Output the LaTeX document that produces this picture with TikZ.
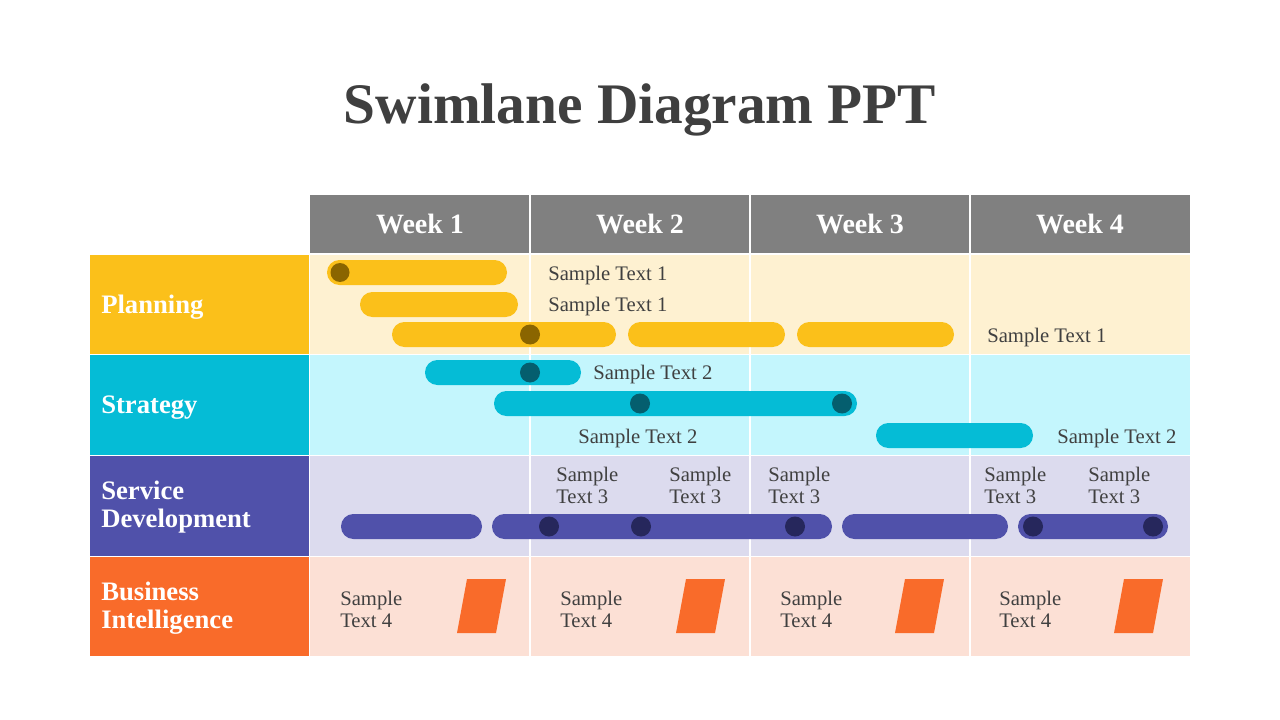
\documentclass[tikz,border=0pt]{standalone}
\usepackage{fontspec}
\setmainfont{Liberation Serif}
\definecolor{titlegray}{HTML}{3F3F3F}
\definecolor{txtgray}{HTML}{404040}
\definecolor{hdrgray}{HTML}{808080}
\definecolor{pY}{HTML}{FBC01A}
\definecolor{pYbg}{HTML}{FEF1D1}
\definecolor{pYdot}{HTML}{8A6500}
\definecolor{sC}{HTML}{05BCD6}
\definecolor{sCbg}{HTML}{C4F6FD}
\definecolor{sCdot}{HTML}{055E6E}
\definecolor{dP}{HTML}{5051AA}
\definecolor{dPbg}{HTML}{DCDBEE}
\definecolor{dPdot}{HTML}{26275C}
\definecolor{bO}{HTML}{F96B2A}
\definecolor{bObg}{HTML}{FCE0D5}
\begin{document}
\begin{tikzpicture}[x=0.75pt,y=-0.75pt,
  hdr/.style={font=\bfseries\fontsize{21}{24}\selectfont, text=white},
  lanelbl/.style={anchor=west, align=left, inner sep=0pt, font=\bfseries\fontsize{20}{21}\selectfont, text=white},
  smp/.style={anchor=west, align=left, inner sep=0pt, font=\fontsize{15.5}{16.5}\selectfont, text=txtgray},
  gridline/.style={draw=white, line width=0.9pt},
  barY/.style={fill=pY, rounded corners=9.3pt},
  barC/.style={fill=sC, rounded corners=9.3pt},
  barP/.style={fill=dP, rounded corners=9.3pt},
  dotY/.style={fill=pYdot},
  dotC/.style={fill=sCdot},
  dotP/.style={fill=dPdot},
  para/.style={fill=bO}]
\useasboundingbox (0,0) rectangle (1280,720);
\fill[white] (0,0) rectangle (1280,720);
% title
\node[font=\bfseries\fontsize{43}{50}\selectfont, text=titlegray] (title) at (640,110) {Swimlane Diagram PPT};
% header
\fill[hdrgray] (310,195) rectangle (1190,253);
% lane backgrounds
\fill[pYbg] (310,254) rectangle (1190,354);
\fill[sCbg] (310,355) rectangle (1190,455);
\fill[dPbg] (310,456) rectangle (1190,556);
\fill[bObg] (310,557) rectangle (1190,656);
% lane labels
\fill[pY] (90,254) rectangle (309,354);
\fill[sC] (90,355) rectangle (309,455);
\fill[dP] (90,456) rectangle (309,556);
\fill[bO] (90,557) rectangle (309,656);
% grid lines
\foreach \xx in {530,750,970} \draw[gridline] (\xx,195) -- (\xx,656);
\draw[gridline] (309.5,254) -- (309.5,656);
\foreach \yy in {254,354.5,455.5,556.5} \draw[gridline] (90,\yy) -- (1190,\yy);
% header texts
\node[hdr] (w1) at (420,224) {Week 1};
\node[hdr] (w2) at (640,224) {Week 2};
\node[hdr] (w3) at (860,224) {Week 3};
\node[hdr] (w4) at (1080,224) {Week 4};
% lane label texts
\node[lanelbl] (lp) at (101,307) {Planning};
\node[lanelbl] (ls) at (101,408) {Strategy};
\node[lanelbl] (ld) at (101,507) {Service\\Development};
\node[lanelbl] (lb) at (101,608) {Business\\Intelligence};
% planning bars
\fill[barY] (327,260) rectangle (507,285);
\fill[dotY] (340,272.5) circle (9.5);
\fill[barY] (360,292) rectangle (518,317);
\fill[barY] (392,322) rectangle (616,347);
\fill[dotY] (530,334.5) circle (10);
\fill[barY] (628,322) rectangle (785,347);
\fill[barY] (797,322) rectangle (954,347);
\node[smp] (p1) at (548,276) {Sample Text 1};
\node[smp] (p2) at (548,307) {Sample Text 1};
\node[smp] (p3) at (987,338) {Sample Text 1};
% strategy bars
\fill[barC] (425,360) rectangle (581,385);
\fill[dotC] (530,372.5) circle (10);
\fill[barC] (494,391) rectangle (857,416);
\fill[dotC] (640,403.5) circle (10);
\fill[dotC] (842,403.5) circle (10);
\fill[barC] (876,423) rectangle (1033,448);
\node[smp] (s1) at (593,375) {Sample Text 2};
\node[smp] (s2) at (578,439) {Sample Text 2};
\node[smp] (s3) at (1057,439) {Sample Text 2};
% service development bars
\fill[barP] (341,514) rectangle (482,539);
\fill[barP] (492,514) rectangle (832,539);
\fill[dotP] (549,526.5) circle (10);
\fill[dotP] (641,526.5) circle (10);
\fill[dotP] (795,526.5) circle (10);
\fill[barP] (842,514) rectangle (1008,539);
\fill[barP] (1018,514) rectangle (1168,539);
\fill[dotP] (1033,526.5) circle (10);
\fill[dotP] (1153,526.5) circle (10);
\node[smp] (d1) at (556,485) {Sample\\Text 3};
\node[smp] (d2) at (669,485) {Sample\\Text 3};
\node[smp] (d3) at (768,485) {Sample\\Text 3};
\node[smp] (d4) at (984,485) {Sample\\Text 3};
\node[smp] (d5) at (1088,485) {Sample\\Text 3};
% business intelligence
\foreach \k in {0,1,2,3} {
  \fill[para] (467+219*\k,579) -- (506+219*\k,579) -- (496+219*\k,633) -- (457+219*\k,633) -- cycle;
}
\node[smp] (b1) at (340,609) {Sample\\Text 4};
\node[smp] (b2) at (560,609) {Sample\\Text 4};
\node[smp] (b3) at (780,609) {Sample\\Text 4};
\node[smp] (b4) at (999,609) {Sample\\Text 4};
\end{tikzpicture}
\end{document}
